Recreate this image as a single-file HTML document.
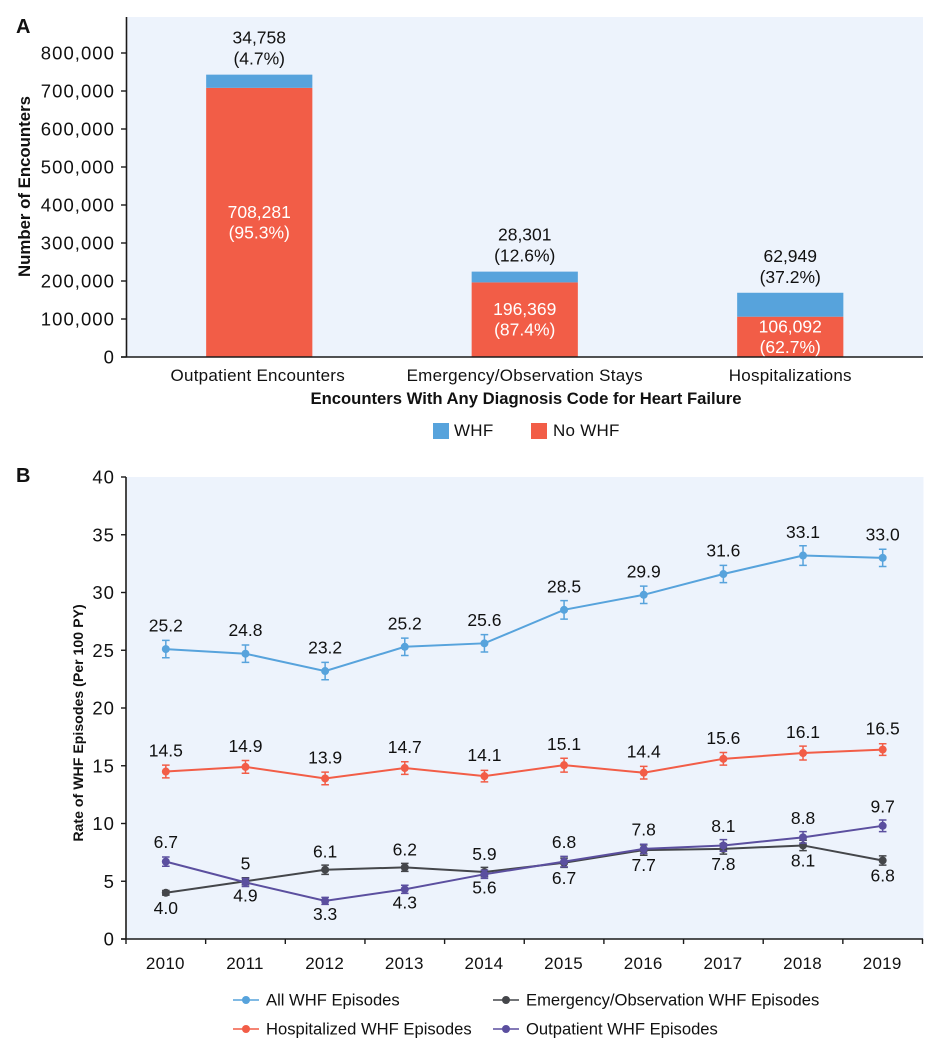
<!DOCTYPE html>
<html lang="en">
<head>
<meta charset="utf-8">
<title>Worsening heart failure encounters and rates</title>
<style>
html,body{margin:0;padding:0;background:#fff;width:938px;height:1050px;overflow:hidden}
svg{display:block;font-family:"Liberation Sans",sans-serif;fill:#111}
.tick{font-size:18.5px;letter-spacing:1.05px}
.lab{font-size:17.5px}
.cat{font-size:17px;letter-spacing:.25px}
.leg{font-size:16.6px}
.bold{font-weight:bold}
</style>
</head>
<body>
<svg id="chart" xmlns="http://www.w3.org/2000/svg" width="938" height="1050" viewBox="0 0 938 1050"></svg>
<script>
// Panel A data
const encounterCategories = ["Outpatient Encounters", "Emergency/Observation Stays", "Hospitalizations"];
const noWhfCounts = [708281, 196369, 106092];
const whfCounts = [34758, 28301, 62949];
const noWhfPercents = ["95.3%", "87.4%", "62.7%"];
const whfPercents = ["4.7%", "12.6%", "37.2%"];
const encounterTicks = [0, 100000, 200000, 300000, 400000, 500000, 600000, 700000, 800000];

// Panel B data
const years = [2010, 2011, 2012, 2013, 2014, 2015, 2016, 2017, 2018, 2019];
const rateTicks = [0, 5, 10, 15, 20, 25, 30, 35, 40];
const allWhf = [25.1, 24.7, 23.2, 25.3, 25.6, 28.5, 29.8, 31.6, 33.2, 33.0];
const allWhfLabels = ["25.2", "24.8", "23.2", "25.2", "25.6", "28.5", "29.9", "31.6", "33.1", "33.0"];
const allWhfErr = [0.75, 0.75, 0.75, 0.75, 0.75, 0.8, 0.75, 0.75, 0.85, 0.75];
const hospitalized = [14.5, 14.9, 13.9, 14.8, 14.1, 15.05, 14.4, 15.6, 16.1, 16.4];
const hospitalizedLabels = ["14.5", "14.9", "13.9", "14.7", "14.1", "15.1", "14.4", "15.6", "16.1", "16.5"];
const hospitalizedErr = [0.55, 0.55, 0.55, 0.55, 0.5, 0.6, 0.55, 0.55, 0.6, 0.5];
const emergency = [4.0, 5.0, 6.0, 6.2, 5.8, 6.6, 7.7, 7.8, 8.1, 6.8];
const emergencyLabels = ["4.0", "5", "6.1", "6.2", "5.9", "6.7", "7.7", "7.8", "8.1", "6.8"];
const emergencyErr = [0.2, 0.3, 0.4, 0.35, 0.4, 0.4, 0.45, 0.45, 0.45, 0.4];
const outpatient = [6.7, 4.9, 3.3, 4.3, 5.6, 6.7, 7.8, 8.1, 8.8, 9.8];
const outpatientLabels = ["6.7", "4.9", "3.3", "4.3", "5.6", "6.8", "7.8", "8.1", "8.8", "9.7"];
const outpatientErr = [0.4, 0.35, 0.3, 0.35, 0.35, 0.45, 0.4, 0.5, 0.5, 0.5];

const svg = document.getElementById('chart');
const NS = 'http://www.w3.org/2000/svg';
const INK = '#1a1a1a', BLUE = '#57a3dc', RED = '#f25d47', GREY = '#44464a', PURPLE = '#5b4f9f', PANEL = '#edf3fc';

function shape(tag, props, parent) {
  const el = document.createElementNS(NS, tag);
  for (const k in props) el.setAttribute(k, props[k]);
  (parent || svg).appendChild(el);
  return el;
}
function label(str, x, y, cls, anchor, fill, parent) {
  const el = shape('text', {x: x, y: y, 'text-anchor': anchor || 'middle', class: cls || 'lab', fill: fill || '#111'}, parent);
  el.textContent = str;
  return el;
}

/* ---------- Panel A ---------- */
const aLeft = 127.5, aRight = 923, aTop = 17, aBottom = 357;
const aPerUnit = 38 / 100000;
const ay = v => aBottom - v * aPerUnit;
const band = (aRight - 126.5) / encounterCategories.length;
const ax = i => 126.5 + band * (i + 0.5);
const barW = band * 0.4;

const panelA = shape('rect', {x: aLeft, y: aTop, width: aRight - aLeft, height: aBottom - aTop, fill: PANEL});



const tagA = label('A', 16, 33, 'bold', 'start');
tagA.setAttribute('font-size', '20');



encounterCategories.forEach((c, i) => {
  const red = shape('rect', {x: ax(i) - barW / 2, y: ay(noWhfCounts[i]), width: barW, height: aBottom - ay(noWhfCounts[i]), fill: RED});
  
  
  const top = noWhfCounts[i] + whfCounts[i];
  const blue = shape('rect', {x: ax(i) - barW / 2, y: ay(top), width: barW, height: ay(noWhfCounts[i]) - ay(top), fill: BLUE});
  
  

  const w1 = label(whfCounts[i].toLocaleString('en-US'), ax(i), ay(top) - 31);
  
  
  const w2 = label('(' + whfPercents[i] + ')', ax(i), ay(top) - 10);
  
  

  const mid = ay(noWhfCounts[i] / 2);
  const n1 = label(noWhfCounts[i].toLocaleString('en-US'), ax(i), mid - 4.5, 'lab', 'middle', '#fff');
  
  
  const n2 = label('(' + noWhfPercents[i] + ')', ax(i), mid + 16, 'lab', 'middle', '#fff');
  
  

  const cat = label(c, ax(i) - (i === 0 ? 1.5 : 0), 381, 'cat');
  
  
});

const aAxisY = shape('line', {x1: 126.5, y1: aTop, x2: 126.5, y2: aBottom, stroke: INK, 'stroke-width': 1.6});


const aAxisX = shape('line', {x1: 121, y1: aBottom, x2: aRight, y2: aBottom, stroke: INK, 'stroke-width': 1.6});



encounterTicks.forEach(t => {
  const mark = shape('line', {x1: 121, y1: ay(t), x2: 126.5, y2: ay(t), stroke: INK, 'stroke-width': 1.4});
  
  
  const txt = label(t.toLocaleString('en-US'), 115, ay(t) + 6.5, 'tick', 'end');
  
  
});

const aYTitle = label('Number of Encounters', 0, 0, 'bold');
aYTitle.setAttribute('font-size', '16.8');
aYTitle.setAttribute('transform', 'translate(30,186.5) rotate(-90)');



const aXTitle = label('Encounters With Any Diagnosis Code for Heart Failure', 526, 404, 'bold');
aXTitle.setAttribute('font-size', '16.65');



const legWhf = shape('rect', {x: 433, y: 423, width: 16, height: 16, fill: BLUE});


const legWhfT = label('WHF', 454, 436, 'cat', 'start');


const legNo = shape('rect', {x: 531, y: 423, width: 16, height: 16, fill: RED});


const legNoT = label('No WHF', 553, 436, 'cat', 'start');



/* ---------- Panel B ---------- */
const bLeft = 126, bRight = 922.5, bTop = 477, bBottom = 939;
const by = v => bBottom - v * (bBottom - bTop) / 40;
const step = (bRight - bLeft) / years.length;
const bx = i => bLeft + step * (i + 0.5);

const panelB = shape('rect', {x: bLeft + 1, y: bTop, width: bRight - bLeft, height: bBottom - bTop, fill: PANEL});



const tagB = label('B', 16, 482, 'bold', 'start');
tagB.setAttribute('font-size', '20');



const bAxisY = shape('line', {x1: bLeft, y1: bTop, x2: bLeft, y2: bBottom, stroke: INK, 'stroke-width': 1.6});


const bAxisX = shape('line', {x1: bLeft - 5, y1: bBottom, x2: bRight + 0.5, y2: bBottom, stroke: INK, 'stroke-width': 1.6});



rateTicks.forEach(t => {
  const mark = shape('line', {x1: bLeft - 5, y1: by(t), x2: bLeft, y2: by(t), stroke: INK, 'stroke-width': 1.4});
  
  
  const txt = label(String(t), 115, by(t) + 6.5, 'tick', 'end');
  
  
});

years.forEach((yr, i) => {
  const mark = shape('line', {x1: bLeft + step * i, y1: bBottom, x2: bLeft + step * i, y2: bBottom + 5, stroke: INK, 'stroke-width': 1.4});
  
  
  const txt = label(String(yr), bx(i) - 0.5, 969, 'cat');
  
  
});
const lastMark = shape('line', {x1: bRight, y1: bBottom, x2: bRight, y2: bBottom + 5, stroke: INK, 'stroke-width': 1.4});



const bYTitle = label('Rate of WHF Episodes (Per 100 PY)', 0, 0, 'bold');
bYTitle.setAttribute('font-size', '14.15');
bYTitle.setAttribute('transform', 'translate(83,723) rotate(-90)');



function drawSeries(name, values, errors, color) {
  const g = shape('g', {});
  
  
  const line = shape('polyline', {points: values.map((v, i) => bx(i) + ',' + by(v)).join(' '), fill: 'none', stroke: color, 'stroke-width': 2}, g);
  
  
  values.forEach((v, i) => {
    const x = bx(i), hi = by(v + errors[i]), lo = by(v - errors[i]);
    const err = shape('path', {d: 'M' + x + ' ' + hi + 'V' + lo + 'M' + (x - 3.8) + ' ' + hi + 'H' + (x + 3.8) + 'M' + (x - 3.8) + ' ' + lo + 'H' + (x + 3.8), fill: 'none', stroke: color, 'stroke-width': 1.5}, g);
    
    
    const pt = shape('circle', {cx: x, cy: by(v), r: 4, fill: color}, g);
    
    
  });
}
drawSeries('all-whf', allWhf, allWhfErr, BLUE);
drawSeries('hospitalized', hospitalized, hospitalizedErr, RED);
drawSeries('emergency', emergency, emergencyErr, GREY);
drawSeries('outpatient', outpatient, outpatientErr, PURPLE);

years.forEach((yr, i) => {
  const a = label(allWhfLabels[i], bx(i), by(allWhf[i]) - 17.5);
  
  
  const h = label(hospitalizedLabels[i], bx(i), by(hospitalized[i]) - 15);
  
  
  const emAbove = emergency[i] > outpatient[i];
  const em = label(emergencyLabels[i], bx(i), by(emergency[i]) + (emAbove ? -12 : 21));
  
  
  const out = label(outpatientLabels[i], bx(i), by(outpatient[i]) + (emAbove ? 19 : -13.5));
  
  
});

function legendEntry(name, text, x, y, color) {
  const g = shape('g', {});
  
  
  shape('line', {x1: x, y1: y, x2: x + 26, y2: y, stroke: color, 'stroke-width': 1.6}, g);
  shape('circle', {cx: x + 13, cy: y, r: 4, fill: color}, g);
  label(text, x + 33, y + 5.5, 'leg', 'start', '#111', g);
}
legendEntry('all-whf', 'All WHF Episodes', 233, 1000, BLUE);
legendEntry('hospitalized', 'Hospitalized WHF Episodes', 233, 1029, RED);
legendEntry('emergency', 'Emergency/Observation WHF Episodes', 493, 1000, GREY);
legendEntry('outpatient', 'Outpatient WHF Episodes', 493, 1029, PURPLE);
</script>
</body>
</html>
